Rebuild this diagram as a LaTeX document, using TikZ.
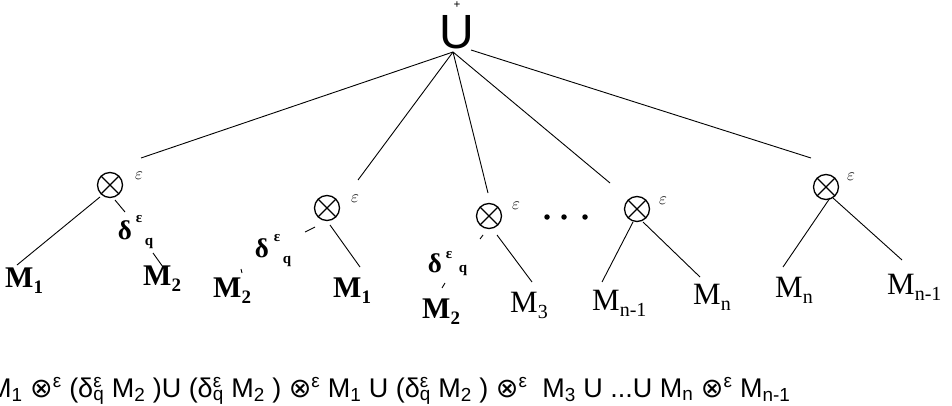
\documentclass[tikz,border=0pt]{standalone}
\usepackage{fontspec}
\setmainfont{Liberation Serif}
\newfontfamily\arialf{Liberation Sans}
\newfontfamily\djv{DejaVu Sans}
\newcommand\Mbold[1]{\textbf{M\raisebox{-0.22em}{\fontsize{19}{19}\selectfont #1}}}
\newcommand\Mreg[1]{M\raisebox{-0.22em}{\fontsize{20}{20}\selectfont #1}}
\newcommand\fot{{\djv ⊗}\textsuperscript{ε}}
\newcommand\fdq{δ\rlap{\textsuperscript{ε}}\textsubscript{q}}
\tikzset{
  conn/.style={line width=0.9pt},
  opnode/.style={circle, draw, line width=1.3pt, minimum size=25pt, inner sep=0pt,
    path picture={\draw[line width=1.1pt]
      (path picture bounding box.north west) -- (path picture bounding box.south east)
      (path picture bounding box.north east) -- (path picture bounding box.south west);}},
  epsl/.style={inner sep=0pt, font=\fontsize{18}{18}\selectfont},
  mlabelb/.style={anchor=base west, inner sep=0pt, font=\fontsize{30}{30}\selectfont},
  mlabelr/.style={anchor=base west, inner sep=0pt, font=\fontsize{31}{31}\selectfont},
  dlt/.style={inner sep=0pt, font=\bfseries\fontsize{27}{27}\selectfont},
  dsup/.style={inner sep=0pt, font=\bfseries\fontsize{15}{15}\selectfont},
  dotn/.style={circle, fill, inner sep=0pt, minimum size=5.5pt},
}
\begin{document}
\begin{tikzpicture}[x=1pt,y=-1pt]
\useasboundingbox (0,0) rectangle (952,406);
% root
\node[inner sep=0pt, font=\arialf\fontsize{48}{48}\selectfont] (root) at (457,32) {U};
\node[inner sep=0pt, font=\bfseries\fontsize{12}{12}\selectfont] (plus) at (457,5) {+};
\coordinate (r) at (453,52);
\coordinate (r5) at (471,50);
% operator nodes
\node[opnode] (o1) at (110,185) {};
\node[opnode] (o2) at (327,208) {};
\node[opnode] (o3) at (489,216) {};
\node[opnode] (o4) at (637,209) {};
\node[opnode] (o5) at (826,187) {};
\node[epsl] (e1) at (139,176) {$\varepsilon$};
\node[epsl] (e2) at (355,199) {$\varepsilon$};
\node[epsl] (e3) at (516,206) {$\varepsilon$};
\node[epsl] (e4) at (663,201) {$\varepsilon$};
\node[epsl] (e5) at (851,177) {$\varepsilon$};
% dots
\node[dotn] (dot1) at (547,217) {};
\node[dotn] (dot2) at (564,217) {};
\node[dotn] (dot3) at (585,217) {};
% delta labels
\node[dlt] (d1) at (125,230) {δ};
\node[dsup] (d1e) at (139,219) {ε};
\node[dsup] (d1q) at (149,243) {q};
\node[dlt] (d2) at (262,248) {δ};
\node[dsup] (d2e) at (277,238) {ε};
\node[dsup] (d2q) at (287,261) {q};
\node[dlt] (d3) at (435,263) {δ};
\node[dsup] (d3e) at (449,255) {ε};
\node[dsup] (d3q) at (463,270) {q};
% leaf labels
\node[mlabelb] (m1) at (5,287) {\Mbold{1}};
\node[mlabelb] (m2) at (143,285) {\Mbold{2}};
\node[mlabelb] (m3) at (213,297) {\Mbold{2}};
\node[mlabelb] (m4) at (333,297) {\Mbold{1}};
\node[mlabelb] (m5) at (422,318) {\Mbold{2}};
\node[mlabelr] (m6) at (510,312) {\Mreg{3}};
\node[mlabelr] (m7) at (592,310) {\Mreg{n-1}};
\node[mlabelr] (m8) at (693,304) {\Mreg{n}};
\node[mlabelr] (m9) at (775,297) {\Mreg{n}};
\node[mlabelr] (m10) at (887,294) {\Mreg{n-1}};
% connector end points
\coordinate (c1) at (141,158);
\coordinate (c2) at (358,180);
\coordinate (c3) at (488,193);
\coordinate (c4) at (610,183);
\coordinate (c5) at (811,158);
\draw[conn] (r) -- (c1);
\draw[conn] (r) -- (c2);
\draw[conn] (r) -- (c3);
\draw[conn] (r) -- (c4);
\draw[conn] (r5) -- (c5);
% lower connectors
\coordinate (a1) at (100,197); \coordinate (b1) at (17,265);
\coordinate (a2) at (115,200); \coordinate (b2) at (125,212);
\coordinate (a3) at (153,253); \coordinate (b3) at (163,267);
\draw[conn] (a1) -- (b1);
\draw[conn] (a2) -- (b2);
\draw[conn] (a3) -- (b3);
\coordinate (a4) at (315,227); \coordinate (b4) at (305,232);
\coordinate (a5) at (330,225); \coordinate (b5) at (360,267);
\coordinate (a6) at (241,269); \coordinate (b6) at (242,273);
\draw[conn] (a4) -- (b4);
\draw[conn] (a5) -- (b5);
\draw[conn] (a6) -- (b6);
\coordinate (a7) at (483,235); \coordinate (b7) at (480,239);
\coordinate (a8) at (497,235); \coordinate (b8) at (532,282);
\coordinate (a9) at (445,283); \coordinate (b9) at (442,288);
\draw[conn] (a7) -- (b7);
\draw[conn] (a8) -- (b8);
\draw[conn] (a9) -- (b9);
\coordinate (a10) at (633,222); \coordinate (b10) at (602,282);
\coordinate (a11) at (643,222); \coordinate (b11) at (700,277);
\draw[conn] (a10) -- (b10);
\draw[conn] (a11) -- (b11);
\coordinate (a12) at (830,198); \coordinate (b12) at (783,267);
\coordinate (a13) at (833,198); \coordinate (b13) at (902,260);
\draw[conn] (a12) -- (b12);
\draw[conn] (a13) -- (b13);
% formula
\node[anchor=base west, inner sep=0pt, font=\arialf\fontsize{27}{27}\selectfont] (formula) at (-11,397)
  {M\textsubscript{1} \fot\ (\fdq\ M\textsubscript{2} )U (\fdq\ M\textsubscript{2} ) \fot\ M\textsubscript{1} U (\fdq\ M\textsubscript{2} ) \fot\ \ M\textsubscript{3} U ...U M\textsubscript{n} \fot\ M\textsubscript{n-1}};
\end{tikzpicture}
\end{document}
